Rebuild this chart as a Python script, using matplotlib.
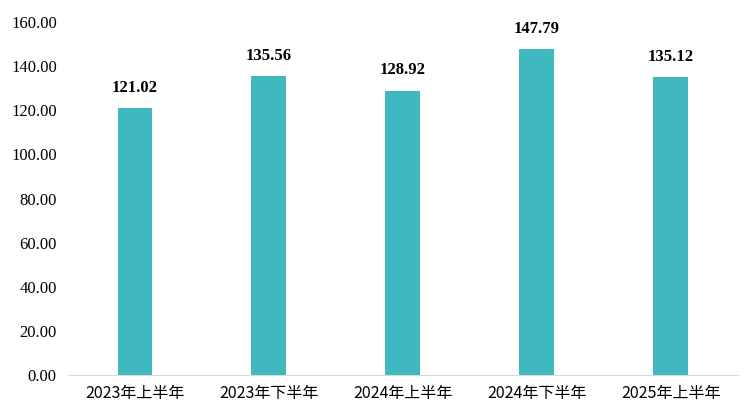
import matplotlib.pyplot as plt

categories = ["2023年上半年", "2023年下半年", "2024年上半年", "2024年下半年", "2025年上半年"]
values = [121.02, 135.56, 128.92, 147.79, 135.12]
y_ticks = [0, 20, 40, 60, 80, 100, 120, 140, 160]

serif = ["Liberation Serif", "Noto Sans CJK SC"]
cjk = ["Noto Sans CJK SC", "DejaVu Sans"]


def main() -> None:
    fig = plt.figure(figsize=(7.52, 4.19), dpi=100)
    ax = fig.add_axes([0.0904, 0.105, 0.8906, 0.8425])
    x = range(len(categories))
    bars = ax.bar(x, values, width=0.26, color="#3FB8BF")
    for bar, v in zip(bars, values):
        ax.text(bar.get_x() + bar.get_width() / 2, v + 5.5, f"{v:.2f}",
                ha="center", va="bottom", fontsize=12, fontweight="bold",
                family=serif)
    ax.set_xlim(-0.5, len(categories) - 0.5)
    ax.set_ylim(0, 160)
    ax.set_yticks(y_ticks)
    ax.set_yticklabels([f"{t:.2f}" for t in y_ticks], family=serif, fontsize=12)
    ax.set_xticks(list(x))
    ax.set_xticklabels(categories, family=cjk, fontsize=11.5)
    for side in ("top", "right", "left"):
        ax.spines[side].set_visible(False)
    ax.spines["bottom"].set_color("#D9D9D9")
    ax.tick_params(axis="both", length=0)
    ax.tick_params(axis="y", pad=8)
    ax.tick_params(axis="x", pad=7)
    fig.savefig("out.png", dpi=100)


main() if __name__ == "__main__" else None
